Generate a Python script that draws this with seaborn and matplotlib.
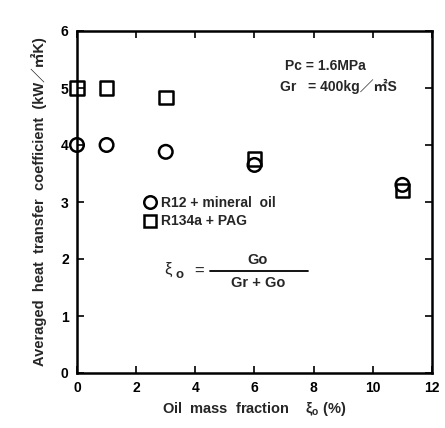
import matplotlib
matplotlib.use("Agg")
import matplotlib.pyplot as plt
import seaborn as sns
import pandas as pd
from matplotlib.lines import Line2D

# data
oil_fraction = [0, 1, 3, 6, 11]
r12_mineral = [4.0, 4.0, 3.88, 3.65, 3.3]
r134a_pag = [5.0, 5.0, 4.83, 3.75, 3.2]
series_names = ["R12 + mineral  oil", "R134a + PAG"]
x_ticks = [0, 2, 4, 6, 8, 10, 12]
y_ticks = [0, 1, 2, 3, 4, 5, 6]

df = pd.DataFrame({
    "x": oil_fraction * 2,
    "y": r12_mineral + r134a_pag,
    "series": [series_names[0]] * len(oil_fraction) + [series_names[1]] * len(oil_fraction),
})

sns.set_theme(style="ticks")
plt.rcParams["font.family"] = ["Liberation Sans", "Noto Sans CJK JP", "DejaVu Sans"]
plt.rcParams["mathtext.fontset"] = "custom"
plt.rcParams["mathtext.rm"] = "Liberation Sans:bold"
plt.rcParams["mathtext.it"] = "Liberation Sans"
plt.rcParams["mathtext.bf"] = "Liberation Sans:bold"

fig = plt.figure(figsize=(4.45, 4.28), dpi=100)
ax = fig.add_axes([77 / 445, 1 - 373 / 428, (432 - 77) / 445, (373 - 31) / 428])

sns.scatterplot(data=df, x="x", y="y", style="series", markers=["o", "s"],
                facecolor="none", edgecolor="black", linewidth=1.8, s=95,
                ax=ax, legend=False, zorder=5, clip_on=False)

ax.set_xlim(0, 12)
ax.set_ylim(0, 6)
ax.set_xticks(x_ticks)
ax.set_yticks(y_ticks)
ax.tick_params(direction="in", length=5, width=1.2, top=True, right=True,
               labelsize=10, colors="black", pad=6)
for lbl in ax.get_xticklabels() + ax.get_yticklabels():
    lbl.set_fontweight("bold")
for sp in ax.spines.values():
    sp.set_linewidth(1.8)
    sp.set_color("black")

ax.set_xlabel(r"Oil  mass  fraction    ξ$_{\rm o}$ (%)", fontsize=10.5,
              fontweight="bold", labelpad=3)
ax.set_ylabel("Averaged  heat  transfer  coefficient  (kW／㎡K)", fontsize=10.5,
              fontweight="bold", labelpad=10)

handles = [Line2D([], [], marker="o", ls="none", mfc="none", mec="black", mew=1.8, ms=9),
           Line2D([], [], marker="s", ls="none", mfc="none", mec="black", mew=1.8, ms=8.5)]
ax.legend(handles, series_names, loc="upper left", bbox_to_anchor=(0.17, 0.535),
          frameon=False, handletextpad=0.3, labelspacing=0.35, borderaxespad=0,
          handlelength=1.0, prop={"weight": "bold", "size": 10})

ax.text(0.585, 0.885, "Pc = 1.6MPa", transform=ax.transAxes, fontsize=10, fontweight="bold")
ax.text(0.572, 0.825, "Gr   = 400kg／㎡S", transform=ax.transAxes, fontsize=10, fontweight="bold")

# equation: xi_o = Go / (Gr + Go)
ax.text(0.245, 0.302, "ξ", transform=ax.transAxes, fontsize=12,
        ha="left", va="center")
ax.text(0.277, 0.286, "o", transform=ax.transAxes, fontsize=9.5, fontweight="bold",
        ha="left", va="center")
ax.text(0.33, 0.298, "=", transform=ax.transAxes, fontsize=12, ha="left", va="center")
ax.text(0.51, 0.33, "Go", transform=ax.transAxes, fontsize=10.5, fontweight="bold",
        ha="center", va="center")
ax.plot([0.375, 0.65], [0.298, 0.298], transform=ax.transAxes, color="black", lw=1.3)
ax.text(0.51, 0.262, "Gr + Go", transform=ax.transAxes, fontsize=10.5, fontweight="bold",
        ha="center", va="center")

fig.savefig("out.png", dpi=100)
